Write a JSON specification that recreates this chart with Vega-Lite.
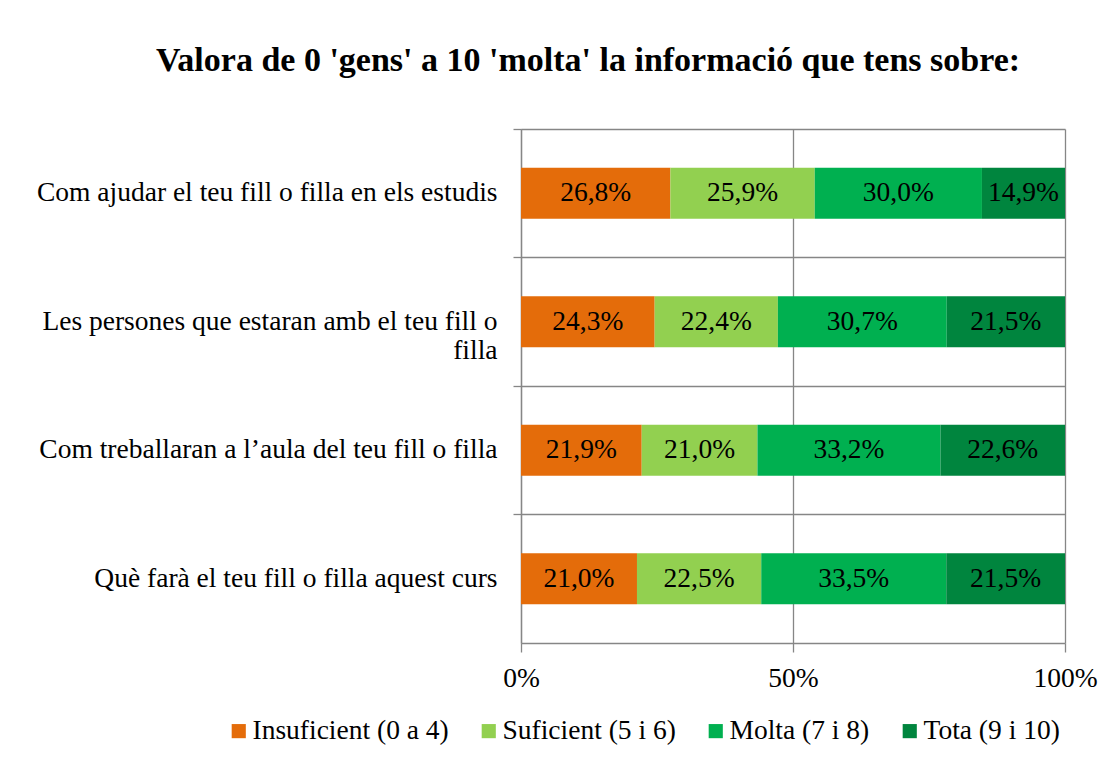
{
  "$schema": "https://vega.github.io/schema/vega-lite/v6.json",
  "width": 544,
  "height": 514,
  "autosize": {"type": "none"},
  "padding": {"left": 521, "top": 129, "right": 36, "bottom": 115},
  "background": "white",
  "config": {
    "font": "Liberation Serif",
    "view": {"stroke": null}
  },
  "title": {
    "text": "Valora de 0 'gens' a 10 'molta' la informació que tens sobre:",
    "font": "Liberation Serif",
    "fontSize": 34,
    "fontWeight": "bold",
    "color": "black",
    "anchor": "middle",
    "frame": "group",
    "dx": -205,
    "offset": 50
  },
  "data": {
    "values": [
      {"item": "Com ajudar el teu fill o filla en els estudis", "level": "Insuficient (0 a 4)", "ord": 1, "value": 0.268},
      {"item": "Com ajudar el teu fill o filla en els estudis", "level": "Suficient (5 i 6)", "ord": 2, "value": 0.259},
      {"item": "Com ajudar el teu fill o filla en els estudis", "level": "Molta (7 i 8)", "ord": 3, "value": 0.300},
      {"item": "Com ajudar el teu fill o filla en els estudis", "level": "Tota (9 i 10)", "ord": 4, "value": 0.149},
      {"item": "Les persones que estaran amb el teu fill o filla", "level": "Insuficient (0 a 4)", "ord": 1, "value": 0.243},
      {"item": "Les persones que estaran amb el teu fill o filla", "level": "Suficient (5 i 6)", "ord": 2, "value": 0.224},
      {"item": "Les persones que estaran amb el teu fill o filla", "level": "Molta (7 i 8)", "ord": 3, "value": 0.307},
      {"item": "Les persones que estaran amb el teu fill o filla", "level": "Tota (9 i 10)", "ord": 4, "value": 0.215},
      {"item": "Com treballaran a l’aula del teu fill o filla", "level": "Insuficient (0 a 4)", "ord": 1, "value": 0.219},
      {"item": "Com treballaran a l’aula del teu fill o filla", "level": "Suficient (5 i 6)", "ord": 2, "value": 0.210},
      {"item": "Com treballaran a l’aula del teu fill o filla", "level": "Molta (7 i 8)", "ord": 3, "value": 0.332},
      {"item": "Com treballaran a l’aula del teu fill o filla", "level": "Tota (9 i 10)", "ord": 4, "value": 0.226},
      {"item": "Què farà el teu fill o filla aquest curs", "level": "Insuficient (0 a 4)", "ord": 1, "value": 0.210},
      {"item": "Què farà el teu fill o filla aquest curs", "level": "Suficient (5 i 6)", "ord": 2, "value": 0.225},
      {"item": "Què farà el teu fill o filla aquest curs", "level": "Molta (7 i 8)", "ord": 3, "value": 0.335},
      {"item": "Què farà el teu fill o filla aquest curs", "level": "Tota (9 i 10)", "ord": 4, "value": 0.215}
    ]
  },
  "encoding": {
    "y": {
      "field": "item",
      "type": "nominal",
      "sort": null,
      "scale": {"paddingInner": 0, "paddingOuter": 0},
      "axis": {
        "title": null,
        "bandPosition": 0,
        "grid": true,
        "gridColor": "#868686",
        "gridWidth": 1.3,
        "tickColor": "#868686",
        "tickWidth": 1.3,
        "domainColor": "#868686",
        "domainWidth": 1.3,
        "tickSize": 8,
        "labelFont": "Liberation Serif",
        "labelFontSize": 27.5,
        "labelColor": "black",
        "labelLimit": 600,
        "labelLineHeight": 29,
        "labelPadding": 16,
        "labelExpr": "indexof(datum.value, 'Les persones') == 0 ? ['Les persones que estaran amb el teu fill o', 'filla'] : datum.value"
      }
    }
  },
  "layer": [
    {
      "mark": {"type": "bar", "height": 51},
      "encoding": {
        "x": {
          "field": "value",
          "type": "quantitative",
          "stack": "normalize",
          "scale": {"domain": [0, 1], "nice": false},
          "axis": {
            "title": null,
            "values": [0, 0.5, 1],
            "format": ".0%",
            "grid": true,
            "gridColor": "#868686",
            "gridWidth": 1.3,
            "domainColor": "#868686",
            "domainWidth": 1.3,
            "tickColor": "#868686",
            "tickWidth": 1.3,
            "tickSize": 9,
            "labelFont": "Liberation Serif",
            "labelFontSize": 27.5,
            "labelColor": "black",
            "labelPadding": 12,
            "labelFlush": false
          }
        },
        "color": {
          "field": "level",
          "type": "nominal",
          "scale": {
            "domain": ["Insuficient (0 a 4)", "Suficient (5 i 6)", "Molta (7 i 8)", "Tota (9 i 10)"],
            "range": ["#E46C0A", "#92D050", "#00B050", "#00853E"]
          },
          "legend": {
            "orient": "none",
            "direction": "horizontal",
            "legendX": -296,
            "legendY": 588,
            "title": null,
            "symbolType": "square",
            "symbolSize": 200,
            "symbolStrokeWidth": 0,
            "labelFont": "Liberation Serif",
            "labelFontSize": 27.5,
            "labelColor": "black",
            "labelLimit": 400,
            "labelOffset": 0,
            "columnPadding": 26
          }
        },
        "order": {"field": "ord", "type": "quantitative"}
      }
    },
    {
      "mark": {"type": "text", "font": "Liberation Serif", "fontSize": 27.5, "color": "black", "text": {"expr": "replace(format(datum.value, '.1%'), '.', ',')"}},
      "encoding": {
        "x": {"field": "value", "type": "quantitative", "stack": "normalize", "bandPosition": 0.5},
        "detail": {"field": "level", "type": "nominal"},
        "order": {"field": "ord", "type": "quantitative"}
      }
    }
  ]
}
